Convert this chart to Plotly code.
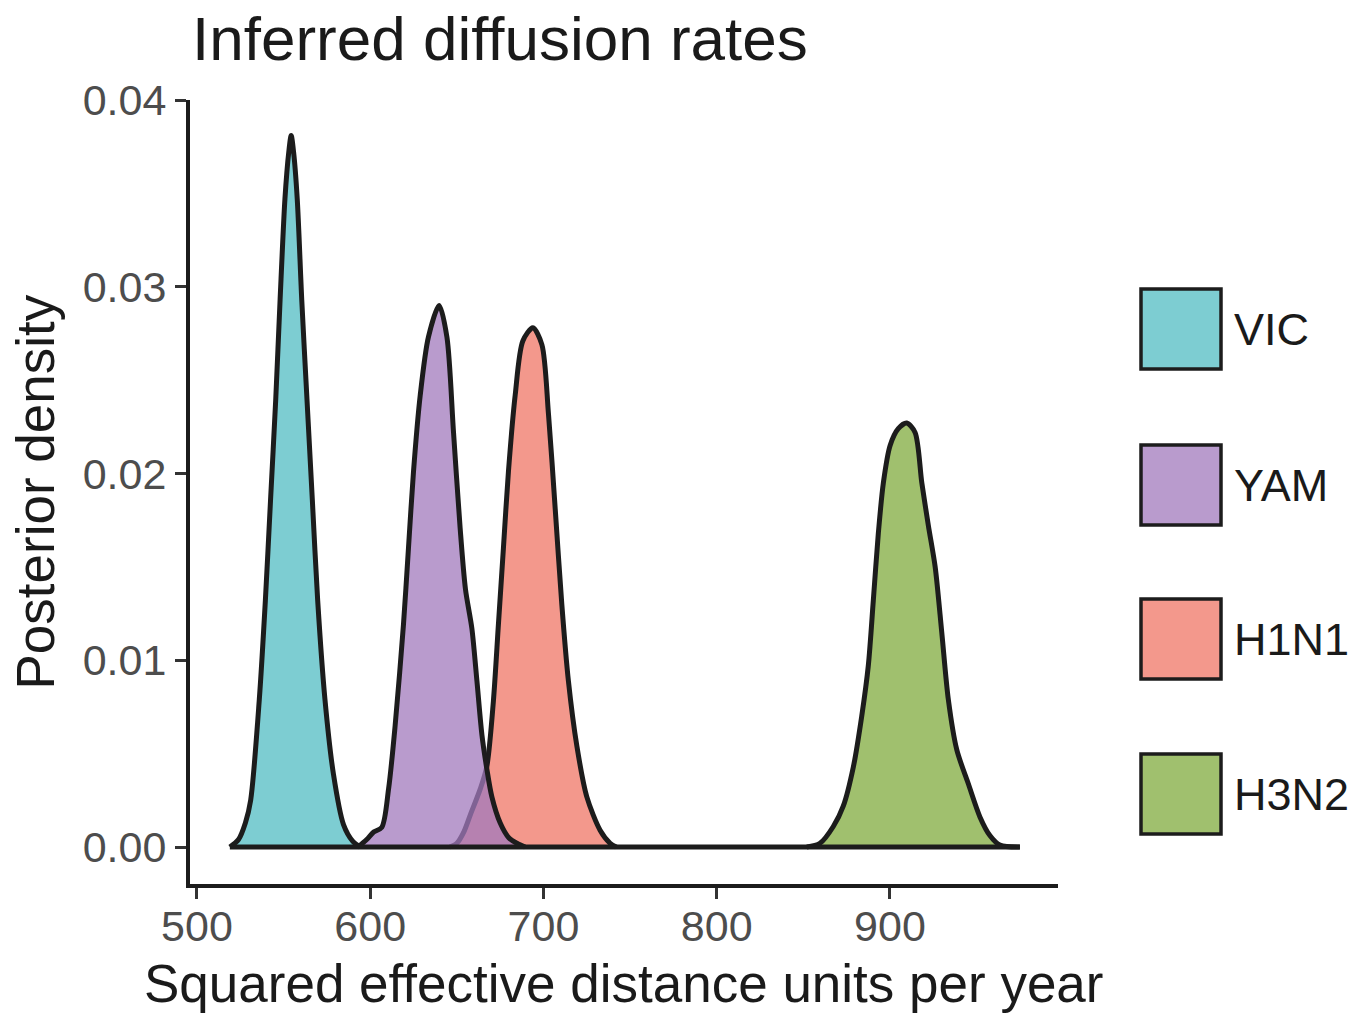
import plotly.graph_objects as go

# Posterior density curves for the four lineages (rate, density)
vic_x = [519, 524, 528, 531, 536.0, 539.5, 542.5, 545.5, 548.0, 550.8, 553.0, 554.4, 555.8,
         557.9, 560.5, 563.5, 566.6, 569.7, 573.9, 578.8, 584.6, 590.0, 594.2]
vic_y = [0, 0.0004, 0.0013, 0.0025, 0.0079, 0.0132, 0.0186, 0.0240, 0.0293, 0.0347, 0.0372, 0.0381, 0.0372,
         0.0347, 0.0293, 0.0240, 0.0186, 0.0132, 0.0079, 0.0039, 0.0012, 0.0003, 0]

yam_x = [593, 598, 602, 606.7, 610.6, 614.4, 619.2, 622.1, 625.0, 628.9, 633.6, 639.8,
         644.3, 648.1, 651.9, 655.0, 658.7, 661.6, 664.5, 667.3, 670.2, 675.0, 680.0, 684.7, 689.4]
yam_y = [0, 0.0004, 0.0008, 0.00105, 0.0031, 0.0065, 0.0119, 0.0160, 0.0201, 0.0242, 0.0273, 0.0290,
         0.0273, 0.0222, 0.0171, 0.0138, 0.0117, 0.0089, 0.0060, 0.0042, 0.0027, 0.0013, 0.0005, 0.0002, 0]

h1n1_x = [646, 650, 654, 657.7, 663.5, 667.3, 671.1, 674.0, 676.9, 679.8, 683.7, 688.1, 693.9,
          699.1, 702.9, 706.8, 710.6, 714.4, 719.3, 725.0, 732.7, 738.5, 742]
h1n1_y = [0, 0.0002, 0.0008, 0.0017, 0.0031, 0.0043, 0.0078, 0.0119, 0.0160, 0.0201, 0.0242, 0.0271, 0.0278,
          0.0269, 0.0232, 0.0181, 0.0130, 0.0089, 0.0054, 0.0027, 0.0009, 0.0002, 0]

h3n2_x = [852, 859.6, 867.3, 873.1, 878.9, 883.7, 887.5, 890.4, 893.3, 896.2, 900.1, 904.8, 909.7,
          914.5, 918.4, 922.2, 926.1, 929.9, 933.7, 938.6, 945.2, 952.0, 957.8, 963.5, 975.0]
h3n2_y = [0, 0.0002, 0.0011, 0.0022, 0.0043, 0.0070, 0.0097, 0.0132, 0.0168, 0.0195, 0.0215, 0.0224, 0.0227,
          0.0222, 0.0195, 0.0172, 0.0150, 0.0115, 0.0079, 0.0052, 0.0034, 0.0016, 0.0006, 0.0001, 0]

legend_names = ["VIC", "YAM", "H1N1", "H3N2"]
x_ticks = [500, 600, 700, 800, 900]
y_ticks = [0.00, 0.01, 0.02, 0.03, 0.04]
y_tick_text = ["0.00", "0.01", "0.02", "0.03", "0.04"]

series = {
    "VIC": (vic_x, vic_y),
    "YAM": (yam_x, yam_y),
    "H1N1": (h1n1_x, h1n1_y),
    "H3N2": (h3n2_x, h3n2_y),
}
base_rgb = {
    "VIC": (82, 188, 195),
    "YAM": (162, 122, 188),
    "H1N1": (239, 118, 102),
    "H3N2": (128, 171, 62),
}
ALPHA = 0.75
OUTLINE = "#1c1c1c"
FONT = "Liberation Sans, Arial, sans-serif"


def rgba(rgb, a):
    return f"rgba({rgb[0]},{rgb[1]},{rgb[2]},{a})"


def blended(rgb, a):
    # colour of the translucent fill over white, for the legend keys
    return "rgb(%d,%d,%d)" % tuple(round(255 - (255 - c) * a) for c in rgb)


fig = go.Figure()

# back to front, so YAM sits over the tail of H1N1
for name in ["H3N2", "H1N1", "YAM", "VIC"]:
    xs, ys = series[name]
    fig.add_trace(go.Scatter(
        x=xs, y=ys, mode="lines", name=name,
        line=dict(color=OUTLINE, width=5, shape="spline", smoothing=0.8),
        fill="toself", fillcolor=rgba(base_rgb[name], ALPHA),
        showlegend=False, hoverinfo="skip",
    ))

# common zero line under all densities
all_x = vic_x + yam_x + h1n1_x + h3n2_x
fig.add_trace(go.Scatter(
    x=[min(all_x), max(all_x)], y=[0, 0], mode="lines",
    line=dict(color=OUTLINE, width=5), showlegend=False, hoverinfo="skip",
))

# plotting panel in pixels
W, H = 1367, 1019
PL, PR, PT, PB = 190, 1058, 100, 884


def px(xp):
    return (xp - PL) / (PR - PL)


def py(yp):
    return (PB - yp) / (PB - PT)


axis_common = dict(
    showline=True, linecolor=OUTLINE, linewidth=4,
    ticks="outside", ticklen=11, tickwidth=3, tickcolor="#333333",
    tickfont=dict(family=FONT, size=43, color="#4d4d4d"),
    showgrid=False, zeroline=False,
)

fig.update_layout(
    width=W, height=H,
    margin=dict(l=PL, r=W - PR, t=PT, b=H - PB),
    paper_bgcolor="white", plot_bgcolor="white",
    xaxis=dict(range=[496, 997], tickvals=x_ticks, ticklabelstandoff=-10, **axis_common),
    yaxis=dict(range=[-0.00198, 0.0400], tickvals=y_ticks, ticktext=y_tick_text, **axis_common),
    font=dict(family=FONT),
)

annotations = [
    dict(text="Inferred diffusion rates", xref="paper", yref="paper", x=0, y=1,
         xanchor="left", yanchor="bottom", xshift=0, yshift=25, showarrow=False,
         font=dict(family=FONT, size=62, color="#1a1a1a")),
    dict(text="Squared effective distance units per year", xref="paper", yref="paper",
         x=0.5, y=0, xanchor="center", yanchor="top", yshift=-68, showarrow=False,
         font=dict(family=FONT, size=53, color="#1a1a1a")),
    dict(text="Posterior density", xref="paper", yref="paper", x=0, y=0.5,
         xanchor="right", yanchor="middle", xshift=-124, textangle=-90, showarrow=False,
         font=dict(family=FONT, size=53, color="#1a1a1a")),
]

shapes = []
key_left, key_right = 1141, 1221
key_centers = [329, 485, 639, 794]
key_half = 40
for name, cy in zip(legend_names, key_centers):
    shapes.append(dict(
        type="rect", xref="paper", yref="paper",
        x0=px(key_left), x1=px(key_right), y0=py(cy + key_half), y1=py(cy - key_half),
        fillcolor=blended(base_rgb[name], ALPHA), line=dict(color=OUTLINE, width=3.5),
        layer="above",
    ))
    annotations.append(dict(
        text=name, xref="paper", yref="paper", x=px(1232), y=py(cy),
        xanchor="left", yanchor="middle", showarrow=False,
        font=dict(family=FONT, size=45, color="#1a1a1a"),
    ))

fig.update_layout(annotations=annotations, shapes=shapes)

fig.write_html("out.html")
